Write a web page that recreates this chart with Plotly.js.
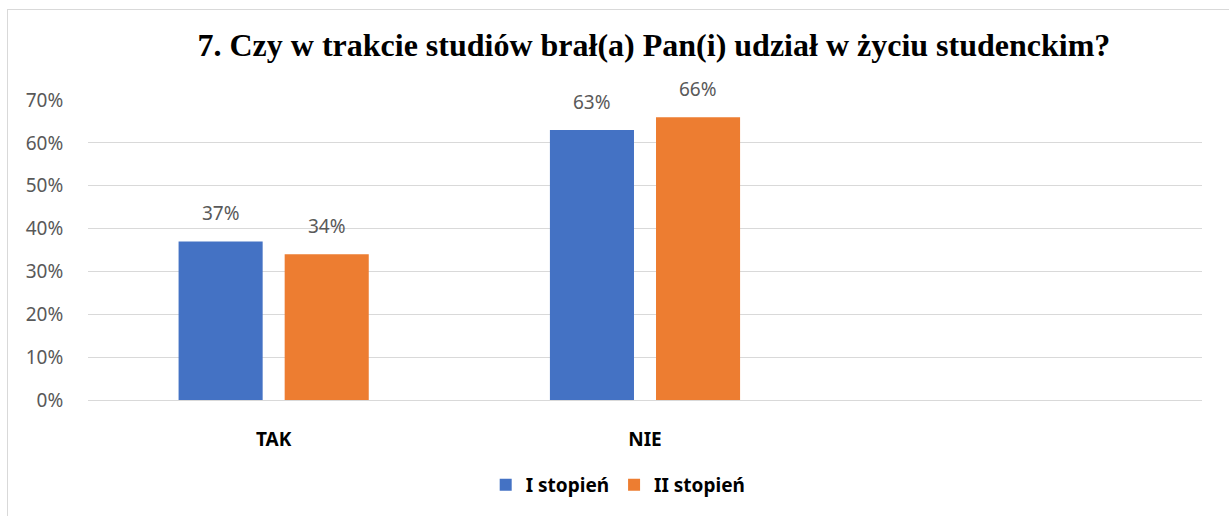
<!DOCTYPE html>
<html><head><meta charset="utf-8">
<script src="https://cdn.plot.ly/plotly-3.0.1.min.js"></script>
<style>
html,body{margin:0;padding:0;background:#fff;}
#wrap{position:relative;width:1229px;height:516px;overflow:hidden;}
#frame{position:absolute;left:7px;top:9px;width:1300px;height:600px;border-top:1px solid #d9d9d9;border-left:1px solid #d9d9d9;pointer-events:none;}
#chart{position:absolute;left:0;top:0;width:1229px;height:516px;}
</style></head>
<body><div id="wrap"><div id="chart"></div><div id="frame"></div></div>
<script>
const categories = ['TAK', 'NIE'];
const seriesNames = ['I stopień', 'II stopień'];
const series1 = [0.37, 0.63];
const series2 = [0.34, 0.66];
const yTickVals = [0, 0.1, 0.2, 0.3, 0.4, 0.5, 0.6, 0.7];
const yTickText = ['0%', '10%', '20%', '30%', '40%', '50%', '60%', '70%'];
const titleText = '7. Czy w trakcie studiów brał(a) Pan(i) udział w życiu studenckim?';

const xPos = categories.map((c, i) => i);
const colors = ['#4472C4', '#ED7D31'];
const labelFont = {family: '"Noto Sans", sans-serif', size: 19, color: '#595959'};
const bargap = 0.4286;
const slot = (1 - bargap) / 2;

const allSeries = [series1, series2];
const traces = allSeries.map((vals, k) => ({
  type: 'bar',
  name: '<b>' + seriesNames[k] + '</b>',
  x: xPos,
  y: vals,
  marker: {color: colors[k]},
  hoverinfo: 'none'
}));

const annotations = [];
allSeries.forEach((vals, k) => {
  vals.forEach((v, i) => {
    annotations.push({
      x: xPos[i] + (k - 0.5) * slot, y: v, xref: 'x', yref: 'y',
      text: Math.round(v * 100) + '%',
      showarrow: false, yanchor: 'bottom', xanchor: 'center',
      yshift: 13, font: labelFont
    });
  });
});

const layout = {
  width: 1229, height: 516,
  margin: {l: 88, r: 27, t: 100, b: 116, pad: 0},
  paper_bgcolor: 'rgba(0,0,0,0)',
  plot_bgcolor: 'rgba(0,0,0,0)',
  barmode: 'group',
  bargap: bargap,
  bargroupgap: 0.2075,
  showlegend: true,
  annotations: annotations,
  title: {
    text: '<b>' + titleText + '</b>',
    font: {family: '"Liberation Serif", "Times New Roman", serif', size: 32, color: '#000'},
    x: 0.508, xanchor: 'center', xref: 'paper',
    y: 1 - 45 / 516, yanchor: 'middle', yref: 'container'
  },
  xaxis: {
    range: [-0.5, 2.5],
    tickvals: xPos,
    ticktext: categories.map(c => '<b>' + c + '</b>'),
    tickfont: {family: '"Noto Sans", sans-serif', size: 19, color: '#000'},
    ticks: 'outside', ticklen: 22, tickcolor: 'rgba(0,0,0,0)',
    showgrid: false, zeroline: false,
    showline: true, linecolor: '#d9d9d9', linewidth: 1,
    fixedrange: true
  },
  yaxis: {
    range: [0, 0.7],
    tickvals: yTickVals,
    ticktext: yTickText,
    tickfont: labelFont,
    ticks: 'outside', ticklen: 20, tickcolor: 'rgba(0,0,0,0)',
    showgrid: true, gridcolor: '#d9d9d9', gridwidth: 1,
    zeroline: false, showline: false,
    fixedrange: true
  },
  legend: {
    orientation: 'h',
    x: 0.357, xanchor: 'left',
    y: -0.283, yanchor: 'middle',
    font: {family: '"Noto Sans", sans-serif', size: 19, color: '#000'},
    itemwidth: 30,
    traceorder: 'normal'
  }
};

Plotly.newPlot('chart', traces, layout, {displayModeBar: false, staticPlot: true});
</script></body></html>
